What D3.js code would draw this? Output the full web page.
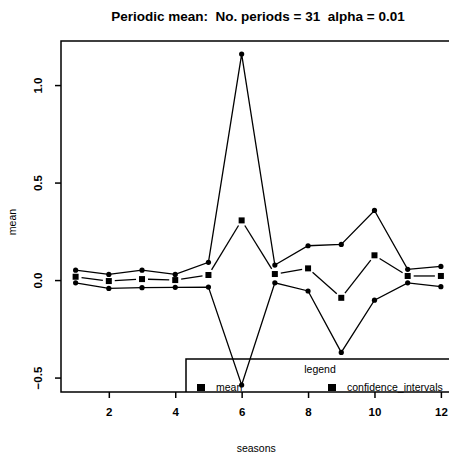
<!DOCTYPE html>
<html>
<head>
<meta charset="utf-8">
<script src="https://cdn.jsdelivr.net/npm/d3@7"></script>
<style>
  body { margin: 0; background: #fff; }
  text { font-family: "Liberation Sans", Arial, sans-serif; fill: #000; white-space: pre; }
</style>
</head>
<body>
<div id="chart"></div>
<script>
// seasons 1..12
var seasons = [1, 2, 3, 4, 5, 6, 7, 8, 9, 10, 11, 12];
var meanValues = [0.017, -0.005, 0.005, 0.000, 0.026, 0.306, 0.031, 0.060, -0.091, 0.127, 0.021, 0.021];
var upperValues = [0.051, 0.029, 0.051, 0.029, 0.091, 1.159, 0.077, 0.176, 0.183, 0.357, 0.055, 0.070];
var lowerValues = [-0.014, -0.043, -0.039, -0.037, -0.036, -0.538, -0.014, -0.056, -0.371, -0.103, -0.014, -0.034];
var xTicks = [2, 4, 6, 8, 10, 12];
var yTicks = [-0.5, 0.0, 0.5, 1.0];
var legendLabels = ["mean", "confidence_intervals"];

var w = 449;
var h = 460;

var plotLeft = 61, plotRight = 455.5, plotTop = 41, plotBottom = 392;

var svg = d3.select("#chart")
            .append("svg")
            .attr("width", w)
            .attr("height", h);

var x = d3.scaleLinear().domain([0.56, 12.44]).range([plotLeft, plotRight]);
var y = d3.scaleLinear().domain([-0.574, 1.226]).range([plotBottom, plotTop]);

// title (keep the double spaces)
svg.append("text")
    .attr("x", 258)
    .attr("y", 21)
    .attr("text-anchor", "middle")
    .attr("font-size", 13.5)
    .attr("font-weight", "bold")
    .attr("xml:space", "preserve")
    .text("Periodic mean:  No. periods = 31  alpha = 0.01");

// axes
var xAxis = d3.axisBottom(x).tickValues(xTicks).tickSize(6).tickFormat(d3.format("d"));
var gx = svg.append("g")
    .attr("transform", "translate(0," + plotBottom + ")")
    .call(xAxis);
gx.select(".domain").remove();
gx.selectAll("line").attr("stroke", "#000").attr("stroke-width", 1.5);
gx.selectAll("text")
    .attr("font-size", 11.5)
    .attr("font-weight", "bold")
    .attr("font-family", "Liberation Sans, Arial, sans-serif")
    .attr("dy", "1.3em");

var yAxis = d3.axisLeft(y).tickValues(yTicks).tickSize(6).tickFormat(d3.format(".1f"));
var gy = svg.append("g")
    .attr("transform", "translate(" + plotLeft + ",0)")
    .call(yAxis);
gy.select(".domain").remove();
gy.selectAll("line").attr("stroke", "#000").attr("stroke-width", 1.5);
gy.selectAll("text")
    .attr("font-size", 11.5)
    .attr("font-weight", "bold")
    .attr("font-family", "Liberation Sans, Arial, sans-serif")
    .attr("text-anchor", "middle")
    .attr("x", 0)
    .attr("dy", 0)
    .attr("transform", "translate(-19,0) rotate(-90)");

// box around plot
svg.append("path")
    .attr("d", "M" + (plotRight + 2) + "," + plotTop + "H" + plotLeft + "V" + plotBottom + "H" + (plotRight + 2))
    .attr("fill", "none")
    .attr("stroke", "#000")
    .attr("stroke-width", 1.5);

// axis titles
svg.append("text")
    .attr("x", (plotLeft + plotRight) / 2 - 2)
    .attr("y", 452)
    .attr("text-anchor", "middle")
    .attr("font-size", 10.5)
    .text("seasons");

svg.append("text")
    .attr("transform", "translate(16," + 222 + ") rotate(-90)")
    .attr("text-anchor", "middle")
    .attr("font-size", 10.5)
    .text("mean");

// legend
var legendX = 186, legendY = 359;
svg.append("path")
    .attr("d", "M" + (w + 5) + "," + legendY + "H" + legendX + "V" + plotBottom)
    .attr("fill", "none")
    .attr("stroke", "#000")
    .attr("stroke-width", 1.5);

svg.append("text")
    .attr("x", 320)
    .attr("y", legendY + 14)
    .attr("text-anchor", "middle")
    .attr("font-size", 10.5)
    .text("legend");

var legendPos = [197, 328];
legendLabels.forEach(function (lab, i) {
    svg.append("rect")
        .attr("x", legendPos[i])
        .attr("y", 384)
        .attr("width", 8)
        .attr("height", 7)
        .attr("fill", "#000");
    svg.append("text")
        .attr("x", legendPos[i] + 19)
        .attr("y", 391)
        .attr("font-size", 10.5)
        .text(lab);
});

// confidence bounds: lines through points
var line = d3.line()
    .x(function (d) { return x(d[0]); })
    .y(function (d) { return y(d[1]); });

[upperValues, lowerValues].forEach(function (vals) {
    var pts = seasons.map(function (s, i) { return [s, vals[i]]; });
    svg.append("path")
        .attr("d", line(pts))
        .attr("fill", "none")
        .attr("stroke", "#000")
        .attr("stroke-width", 1.3);
    svg.selectAll(null)
        .data(pts)
        .enter()
        .append("circle")
        .attr("cx", function (d) { return x(d[0]); })
        .attr("cy", function (d) { return y(d[1]); })
        .attr("r", 2.6)
        .attr("fill", "#000");
});

// mean: type "b" style, segments with gaps around points
var meanPts = seasons.map(function (s, i) { return [s, meanValues[i]]; });
var gap = 6;
for (var i = 0; i < meanPts.length - 1; i++) {
    var x1 = x(meanPts[i][0]), y1 = y(meanPts[i][1]);
    var x2 = x(meanPts[i + 1][0]), y2 = y(meanPts[i + 1][1]);
    var len = Math.sqrt((x2 - x1) * (x2 - x1) + (y2 - y1) * (y2 - y1));
    if (len <= 2 * gap) continue;
    var ux = (x2 - x1) / len, uy = (y2 - y1) / len;
    svg.append("line")
        .attr("x1", x1 + ux * gap)
        .attr("y1", y1 + uy * gap)
        .attr("x2", x2 - ux * gap)
        .attr("y2", y2 - uy * gap)
        .attr("stroke", "#000")
        .attr("stroke-width", 1.3);
}

svg.selectAll(null)
    .data(meanPts)
    .enter()
    .append("rect")
    .attr("x", function (d) { return x(d[0]) - 3; })
    .attr("y", function (d) { return y(d[1]) - 3; })
    .attr("width", 6)
    .attr("height", 6)
    .attr("fill", "#000");
</script>
</body>
</html>
